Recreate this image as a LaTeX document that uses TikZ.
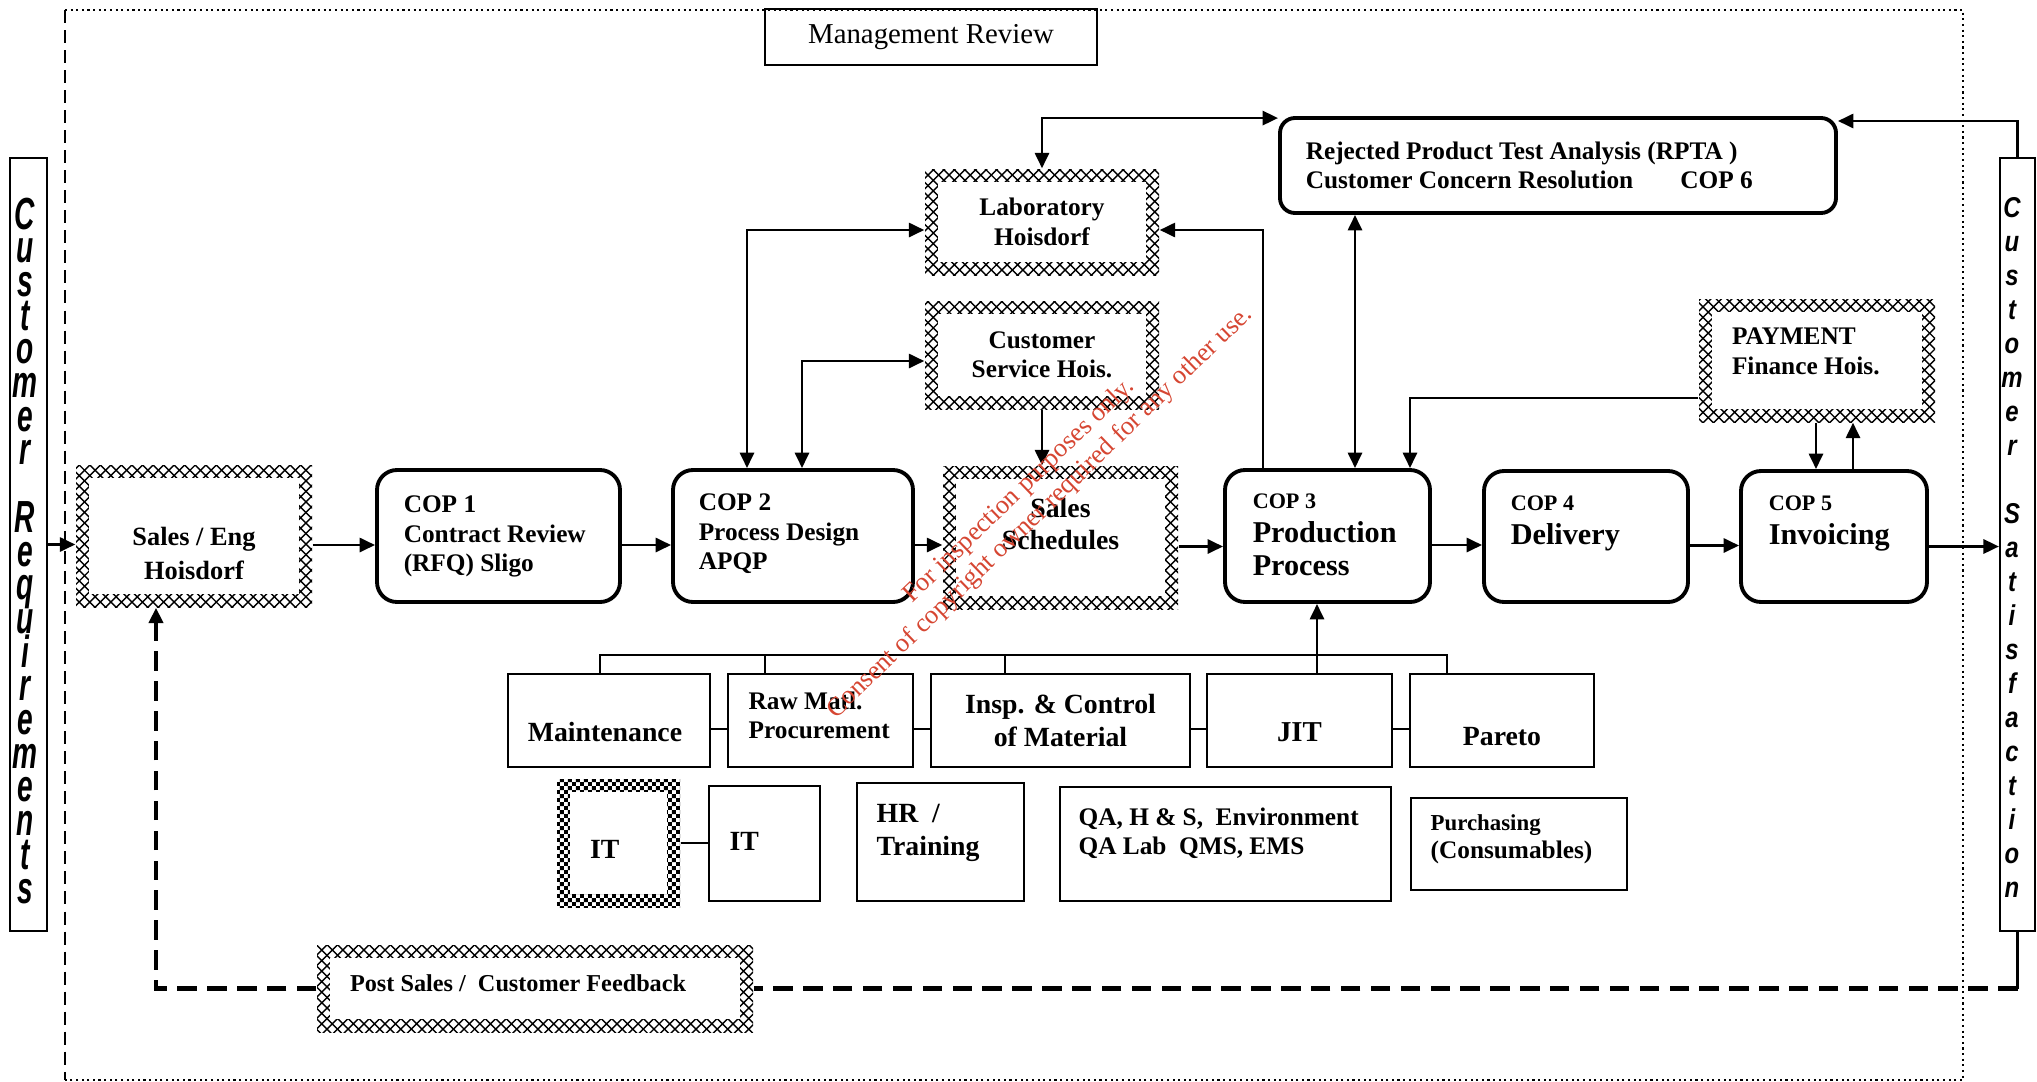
\documentclass[tikz,border=0pt]{standalone}
\usepackage{fontspec}
\setmainfont{Liberation Serif}
\newfontfamily\sidefont{Liberation Sans}
\usepackage{graphicx}
\usetikzlibrary{arrows.meta, patterns}

\definecolor{wmred}{RGB}{214,70,50}
\newcommand{\copsize}{\fontsize{6.3}{7.5}\selectfont}

\pgfdeclarepatternformonly{finechecker}{\pgfpointorigin}{\pgfqpoint{2.4pt}{2.4pt}}{\pgfqpoint{2.4pt}{2.4pt}}{%
  \pgfpathrectangle{\pgfpointorigin}{\pgfqpoint{1.2pt}{1.2pt}}%
  \pgfpathrectangle{\pgfqpoint{1.2pt}{1.2pt}}{\pgfqpoint{1.2pt}{1.2pt}}%
  \pgfusepath{fill}}

\tikzset{
  >={Triangle[length=4.4pt,width=4pt]},
  conn/.style={line width=0.8pt},
  thinconn/.style={line width=0.6pt},
  fbline/.style={line width=1.2pt, dash pattern=on 5.5pt off 3pt},
  copbox/.style={draw, line width=1.1pt, rounded corners=0.2cm},
  plainbox/.style={draw, line width=0.6pt},
  sidebox/.style={draw, line width=0.6pt},
  hatchbox/.style={pattern=#1,
    path picture={\fill[white] ([shift={(0.13,-0.13)}]path picture bounding box.north west)
      rectangle ([shift={(-0.13,0.13)}]path picture bounding box.south east);}},
  hatchbox/.default=crosshatch,
  txt/.style={inner sep=0pt, align=left, anchor=north west},
  ctxt/.style={inner sep=0pt, align=center, anchor=north},
  bodyfont/.style={font=\bfseries\fontsize{7.2}{8.4}\selectfont},
  rowfont/.style={font=\bfseries\fontsize{7.9}{9.3}\selectfont},
  bigfont/.style={font=\bfseries\fontsize{8.6}{9.6}\selectfont},
  crletter/.style={font=\sidefont\bfseries\itshape\fontsize{8}{9}\selectfont, inner sep=0pt, anchor=base},
  csletter/.style={font=\sidefont\bfseries\itshape\fontsize{6.8}{8}\selectfont, inner sep=0pt, anchor=base},
  wmark/.style={text=wmred, font=\fontsize{7.5}{8.6}\selectfont, align=center}
}

\begin{document}
\begin{tikzpicture}
  \useasboundingbox (0,0) rectangle (20.37,-10.82);

  % review frame
  \draw[dash pattern=on 3.7pt off 2pt, line width=0.6pt] (0.65,-0.10) -- (0.65,-10.80);
  \draw[densely dotted, line width=0.6pt] (0.65,-0.10) -- (19.63,-0.10) -- (19.63,-10.80) -- (0.65,-10.80);

  \node[plainbox, line width=0.7pt, minimum width=3.32cm, minimum height=0.56cm, font=\fontsize{8.2}{9.8}\selectfont] (mgmt) at (9.31,-0.37) {Management Review};

  % customer side bars
  \node[sidebox, minimum width=0.37cm, minimum height=7.73cm] (creq) at (0.285,-5.445) {};
  \node[sidebox, minimum width=0.35cm, minimum height=7.73cm] (csat) at (20.175,-5.445) {};
  \foreach \ch [count=\i from 0] in {C,u,s,t,o,m,e,r,{},R,e,q,u,i,r,e,m,e,n,t,s}
    \node[crletter] (cr\i) at (0.25,{-2.29-0.337*\i}) {\scalebox{1}[1.6]{\ch}};
  \foreach \ch [count=\i from 0] in {C,u,s,t,o,m,e,r,{},S,a,t,i,s,f,a,c,t,i,o,n}
    \node[csletter] (cs\i) at (20.12,{-2.17-0.34*\i}) {\scalebox{1}[1.2]{\ch}};

  % hatched (other site) boxes
  \node[hatchbox, minimum width=2.36cm, minimum height=1.42cm] (sales) at (1.94,-5.36) {};
  \node[hatchbox, minimum width=2.34cm, minimum height=1.06cm, align=center, bodyfont] (lab) at (10.42,-2.22) {Laboratory\\Hoisdorf};
  \node[hatchbox, minimum width=2.34cm, minimum height=1.08cm, align=center, bodyfont] (cserv) at (10.42,-3.55) {Customer\\Service Hois.};
  \node[hatchbox, minimum width=2.35cm, minimum height=1.43cm] (sched) at (10.605,-5.375) {};
  \node[hatchbox, minimum width=2.36cm, minimum height=1.23cm] (pay) at (18.17,-3.605) {};
  \node[hatchbox, minimum width=4.36cm, minimum height=0.87cm] (post) at (5.35,-9.885) {};
  \node[hatchbox=finechecker, minimum width=1.23cm, minimum height=1.28cm] (itc) at (6.185,-8.43) {};

  % COP boxes
  \node[copbox, minimum width=2.43cm, minimum height=1.32cm] (cop1) at (4.985,-5.36) {};
  \node[copbox, minimum width=2.40cm, minimum height=1.32cm] (cop2) at (7.93,-5.36) {};
  \node[copbox, minimum width=2.05cm, minimum height=1.32cm] (cop3) at (13.275,-5.36) {};
  \node[copbox, minimum width=2.04cm, minimum height=1.31cm] (cop4) at (15.86,-5.365) {};
  \node[copbox, minimum width=1.86cm, minimum height=1.31cm] (cop5) at (18.34,-5.365) {};
  \node[copbox, rounded corners=0.15cm, minimum width=5.56cm, minimum height=0.95cm] (rpta) at (15.58,-1.655) {};

  % support functions
  \node[plainbox, minimum width=2.02cm, minimum height=0.93cm] (maint) at (6.09,-7.205) {};
  \node[plainbox, minimum width=1.85cm, minimum height=0.93cm] (raw) at (8.205,-7.205) {};
  \node[plainbox, minimum width=2.59cm, minimum height=0.93cm, align=center, rowfont] (insp) at (10.605,-7.205) {Insp. \& Control\\of Material};
  \node[plainbox, minimum width=1.85cm, minimum height=0.93cm] (jit) at (12.995,-7.205) {};
  \node[plainbox, minimum width=1.84cm, minimum height=0.93cm] (pareto) at (15.02,-7.205) {};
  \node[plainbox, minimum width=1.11cm, minimum height=1.15cm] (it) at (7.645,-8.435) {};
  \node[plainbox, minimum width=1.67cm, minimum height=1.18cm] (hr) at (9.405,-8.42) {};
  \node[plainbox, minimum width=3.31cm, minimum height=1.14cm] (qa) at (12.255,-8.44) {};
  \node[plainbox, minimum width=2.16cm, minimum height=0.92cm] (purch) at (15.19,-8.44) {};

  % box texts
  \node[txt, bodyfont] (cop1t) at ([shift={(0.28,-0.27)}]cop1.north west) {COP 1\\Contract Review\\(RFQ) Sligo};
  \node[txt, bodyfont] (cop2t) at ([shift={(0.27,-0.25)}]cop2.north west) {COP 2\\Process Design\\APQP};
  \node[txt, bigfont] (cop3t) at ([shift={(0.29,-0.25)}]cop3.north west) {{\copsize COP 3}\\Production\\Process};
  \node[txt, bigfont] (cop4t) at ([shift={(0.28,-0.26)}]cop4.north west) {{\copsize COP 4}\\Delivery};
  \node[txt, bigfont] (cop5t) at ([shift={(0.29,-0.26)}]cop5.north west) {{\copsize COP 5}\\Invoicing};
  \node[txt, bodyfont] (rptat) at ([shift={(0.27,-0.25)}]rpta.north west) {Rejected Product Test Analysis (RPTA )\\Customer Concern Resolution\hspace{0.47cm}COP 6};
  \node[txt, bodyfont] (payt) at ([shift={(0.33,-0.29)}]pay.north west) {PAYMENT\\Finance Hois.};
  \node[txt, bodyfont] (rawt) at ([shift={(0.21,-0.18)}]raw.north west) {Raw Matl.\\Procurement};
  \node[txt, rowfont] (hrt) at ([shift={(0.20,-0.22)}]hr.north west) {HR\ \ /\\Training};
  \node[txt, bodyfont] (qat) at ([shift={(0.19,-0.21)}]qa.north west) {QA, H \& S,\ \ Environment\\QA Lab\ \ QMS, EMS};
  \node[txt, font=\bfseries\fontsize{7.2}{8}\selectfont] (purcht) at ([shift={(0.20,-0.17)}]purch.north west) {{\fontsize{6.5}{8}\selectfont Purchasing}\\(Consumables)};
  \node[txt, rowfont] (itt) at ([shift={(0.21,-0.47)}]it.north west) {IT};
  \node[txt, rowfont] (itct) at ([shift={(0.33,-0.61)}]itc.north west) {IT};
  \node[txt, font=\bfseries\fontsize{6.9}{8}\selectfont] (postt) at ([shift={(0.33,-0.30)}]post.north west) {Post Sales /\ \ Customer Feedback};
  \node[ctxt, font=\bfseries\fontsize{7.5}{9.7}\selectfont] (salest) at ([yshift=-0.62cm]sales.north) {Sales / Eng\\Hoisdorf};
  \node[ctxt, rowfont] (schedt) at ([yshift=-0.32cm]sched.north) {Sales\\Schedules};
  \node[ctxt, rowfont] (maintt) at ([shift={(-0.04,-0.49)}]maint.north) {Maintenance};
  \node[ctxt, font=\bfseries\fontsize{8.2}{9.6}\selectfont] (jitt) at ([yshift=-0.49cm]jit.north) {JIT};
  \node[ctxt, rowfont] (paretot) at ([yshift=-0.54cm]pareto.north) {Pareto};

  % main process flow
  \draw[conn, ->] (creq.east) -- (creq.east -| sales.west);
  \foreach \a/\b in {sales/cop1, cop1/cop2, cop2/sched, sched/cop3, cop3/cop4, cop4/cop5}
    \draw[conn, ->] ([yshift=-0.09cm]\a.east) -- ([yshift=-0.09cm]\a.east -| \b.west);
  \draw[conn, ->] ([yshift=-0.1cm]cop5.east) -- ([yshift=-0.1cm]cop5.east -| csat.west);

  % links to the upper boxes
  \draw[conn, <->] (lab.north) |- ([yshift=-0.02cm]rpta.north west);
  \draw[conn, <->] ([xshift=-0.46cm]cop2.north) |- ([yshift=-0.08cm]lab.west);
  \draw[conn, <->] ([xshift=0.09cm]cop2.north) |- ([yshift=-0.06cm]cserv.west);
  \draw[conn, ->] (cserv.south) -- (cserv.south |- sched.north);
  \draw[conn, ->] ([xshift=-0.645cm]cop3.north) |- ([yshift=-0.08cm]lab.east);
  \draw[conn, <->] ([xshift=0.275cm]cop3.north) -- ([xshift=0.275cm]cop3.north |- rpta.south);
  \draw[conn, ->] ([yshift=-0.375cm]pay.west) -| ([xshift=0.825cm]cop3.north);
  \draw[conn, ->] ([xshift=-0.18cm]cop5.north |- pay.south) -- ([xshift=-0.18cm]cop5.north);
  \draw[conn, ->] ([xshift=0.19cm]cop5.north) -- ([xshift=0.19cm]cop5.north |- pay.south);
  \draw[conn, ->] (csat.north) |- ([yshift=0.445cm]rpta.east);

  % support bus
  \draw[thinconn] ([xshift=-0.09cm]maint.north) -- ++(0,0.18) -| ([xshift=-0.55cm]pareto.north);
  \draw[thinconn] ([xshift=-0.555cm]raw.north) -- ++(0,0.18);
  \draw[thinconn] ([xshift=-0.555cm]insp.north) -- ++(0,0.18);
  \draw[conn, ->] ([xshift=0.175cm]jit.north) -- ([xshift=0.175cm]jit.north |- cop3.south);
  \foreach \a/\b in {maint/raw, raw/insp, insp/jit, jit/pareto}
    \draw[thinconn] ([yshift=-0.085cm]\a.east) -- ([yshift=-0.085cm]\a.east -| \b.west);
  \draw[thinconn] (itc.east) -- (itc.east -| it.west);

  % customer feedback loop
  \draw[thinconn] (csat.south) -- (csat.south |- post.east);
  \draw[fbline] (csat.south |- post.east) -- (post.east);
  \draw[fbline, ->] (post.west) -| ([xshift=-0.38cm]sales.south);

  \node[wmark, rotate=44] (wm) at (10.30,-5.02) {For inspection purposes only.\\Consent of copyright owner required for any other use.};
\end{tikzpicture}
\end{document}
